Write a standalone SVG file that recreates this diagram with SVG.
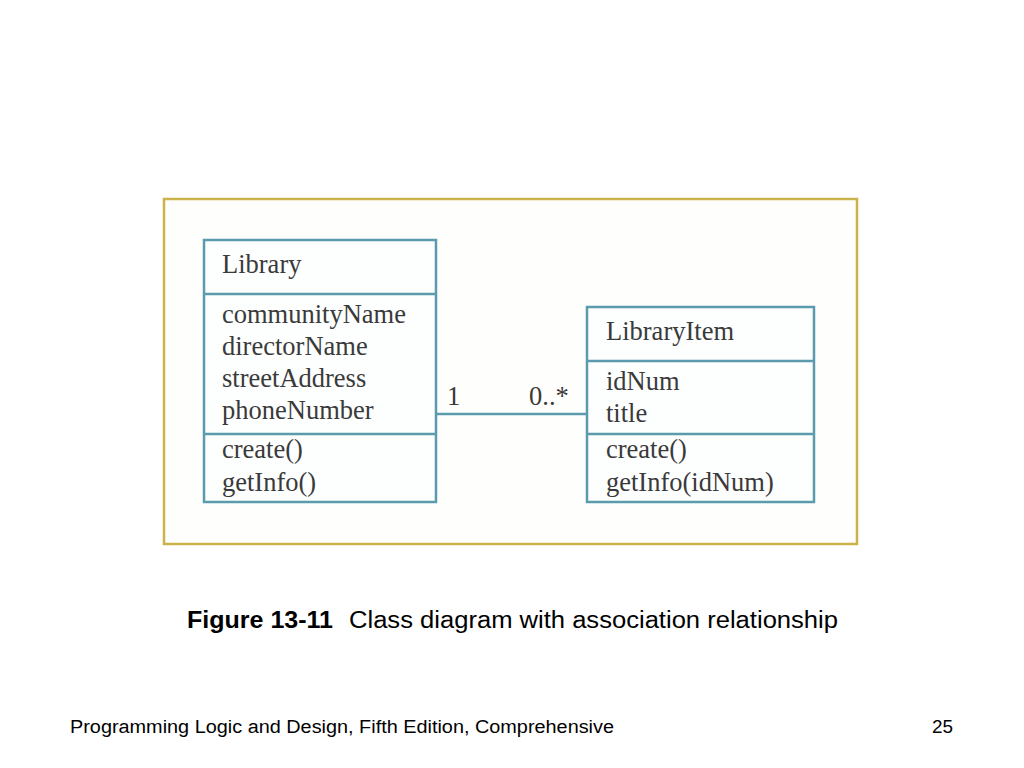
<svg xmlns="http://www.w3.org/2000/svg" width="1024" height="768" viewBox="0 0 1024 768">
<style>
.box{fill:#fdfefe;stroke:#5b9bae;stroke-width:2.5}
.div{stroke:#5b9bae;stroke-width:2.5}
.t{font-family:"Liberation Serif","Times New Roman",serif;font-size:26.5px;fill:#3a3a3a}
.cap{font-family:"Liberation Sans Narrow","Liberation Sans",Arial,sans-serif;font-size:23px;fill:#000}
.foot{font-family:"Liberation Sans",Arial,sans-serif;font-size:18px;fill:#000}
</style>
<rect width="1024" height="768" fill="#ffffff"/>
<rect x="164" y="199" width="693" height="345" fill="#fefefc" stroke="#cbb34c" stroke-width="2.5"/>
<g id="connectors">
<line x1="436" y1="414" x2="587" y2="414" class="div"/>
<text x="447" y="405" class="t">1</text>
<text x="529" y="405" class="t">0..*</text>
</g>
<g id="Library">
<rect x="204" y="240" width="232" height="262" class="box"/>
<line x1="204" y1="294" x2="436" y2="294" class="div"/>
<line x1="204" y1="434" x2="436" y2="434" class="div"/>
<text x="222" y="273" class="t">Library</text>
<text x="222" y="323" class="t">communityName</text>
<text x="222" y="355" class="t">directorName</text>
<text x="222" y="387" class="t">streetAddress</text>
<text x="222" y="419" class="t">phoneNumber</text>
<text x="222" y="458" class="t">create()</text>
<text x="222" y="491" class="t">getInfo()</text>
</g>
<g id="LibraryItem">
<rect x="587" y="307" width="227" height="195" class="box"/>
<line x1="587" y1="361" x2="814" y2="361" class="div"/>
<line x1="587" y1="434" x2="814" y2="434" class="div"/>
<text x="606" y="340" class="t">LibraryItem</text>
<text x="606" y="390" class="t">idNum</text>
<text x="606" y="422" class="t">title</text>
<text x="606" y="458" class="t">create()</text>
<text x="606" y="491" class="t">getInfo(idNum)</text>
</g>
<text x="187" y="628" class="cap" font-weight="bold" textLength="146" lengthAdjust="spacingAndGlyphs">Figure 13-11</text>
<text x="349" y="628" class="cap" textLength="489" lengthAdjust="spacingAndGlyphs">Class diagram with association relationship</text>
<text x="70" y="733" class="foot" textLength="544" lengthAdjust="spacingAndGlyphs">Programming Logic and Design, Fifth Edition, Comprehensive</text>
<text x="932" y="733" class="foot" textLength="21" lengthAdjust="spacingAndGlyphs">25</text>
</svg>
